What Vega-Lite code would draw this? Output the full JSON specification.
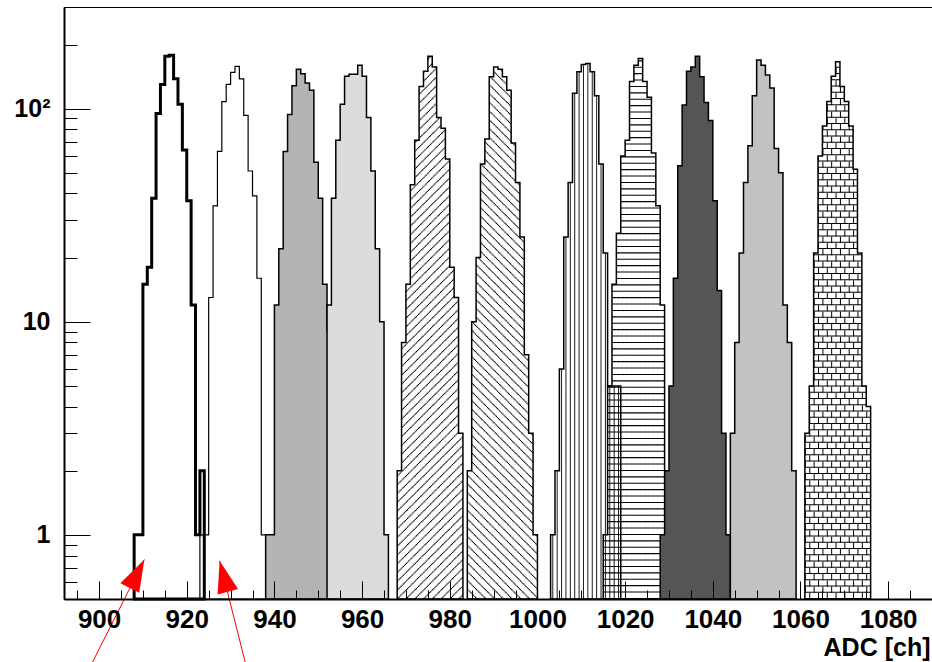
{
"$schema": "https://vega.github.io/schema/vega-lite/v6.json",
"width": 868, "height": 592,
"autosize": {"type": "none"},
"padding": {"left": 64, "top": 7, "right": 0, "bottom": 63},
"background": "white",
"config": {"view": {"stroke": "black", "strokeWidth": 1}, "axis": {"grid": false}},
"datasets": {
"hist": [
{"h":1,"x0":908,"x1":909,"c":1},{"h":1,"x0":909,"x1":910,"c":1},{"h":1,"x0":910,"x1":911,"c":15},{"h":1,"x0":911,"x1":912,"c":18},{"h":1,"x0":912,"x1":913,"c":38},{"h":1,"x0":913,"x1":914,"c":95},{"h":1,"x0":914,"x1":915,"c":130},{"h":1,"x0":915,"x1":916,"c":176},{"h":1,"x0":916,"x1":917,"c":178},{"h":1,"x0":917,"x1":918,"c":138},{"h":1,"x0":918,"x1":919,"c":105},{"h":1,"x0":919,"x1":920,"c":64},{"h":1,"x0":920,"x1":921,"c":37},{"h":1,"x0":921,"x1":922,"c":12},{"h":1,"x0":922,"x1":923,"c":1},{"h":1,"x0":923,"x1":924,"c":2},
{"h":2,"x0":923,"x1":924,"c":1},{"h":2,"x0":924,"x1":925,"c":1},{"h":2,"x0":925,"x1":926,"c":13},{"h":2,"x0":926,"x1":927,"c":35},{"h":2,"x0":927,"x1":928,"c":63},{"h":2,"x0":928,"x1":929,"c":108},{"h":2,"x0":929,"x1":930,"c":130},{"h":2,"x0":930,"x1":931,"c":148},{"h":2,"x0":931,"x1":932,"c":158},{"h":2,"x0":932,"x1":933,"c":138},{"h":2,"x0":933,"x1":934,"c":93},{"h":2,"x0":934,"x1":935,"c":51},{"h":2,"x0":935,"x1":936,"c":39},{"h":2,"x0":936,"x1":937,"c":16},{"h":2,"x0":937,"x1":938,"c":1},
{"h":3,"x0":938,"x1":939,"c":1},{"h":3,"x0":939,"x1":940,"c":1},{"h":3,"x0":940,"x1":941,"c":12},{"h":3,"x0":941,"x1":942,"c":22},{"h":3,"x0":942,"x1":943,"c":63},{"h":3,"x0":943,"x1":944,"c":94},{"h":3,"x0":944,"x1":945,"c":128},{"h":3,"x0":945,"x1":946,"c":153},{"h":3,"x0":946,"x1":947,"c":146},{"h":3,"x0":947,"x1":948,"c":132},{"h":3,"x0":948,"x1":949,"c":122},{"h":3,"x0":949,"x1":950,"c":56},{"h":3,"x0":950,"x1":951,"c":38},{"h":3,"x0":951,"x1":952,"c":15},{"h":3,"x0":952,"x1":953,"c":9},{"h":3,"x0":953,"x1":954,"c":1},{"h":3,"x0":954,"x1":955,"c":1},
{"h":4,"x0":952,"x1":953,"c":12},{"h":4,"x0":953,"x1":954,"c":38},{"h":4,"x0":954,"x1":955,"c":71},{"h":4,"x0":955,"x1":956,"c":105},{"h":4,"x0":956,"x1":957,"c":142},{"h":4,"x0":957,"x1":958,"c":145},{"h":4,"x0":958,"x1":959,"c":145},{"h":4,"x0":959,"x1":960,"c":160},{"h":4,"x0":960,"x1":961,"c":142},{"h":4,"x0":961,"x1":962,"c":91},{"h":4,"x0":962,"x1":963,"c":51},{"h":4,"x0":963,"x1":964,"c":22},{"h":4,"x0":964,"x1":965,"c":10},{"h":4,"x0":965,"x1":966,"c":1},
{"h":5,"x0":968,"x1":969,"c":2},{"h":5,"x0":969,"x1":970,"c":8},{"h":5,"x0":970,"x1":971,"c":15},{"h":5,"x0":971,"x1":972,"c":44},{"h":5,"x0":972,"x1":973,"c":71},{"h":5,"x0":973,"x1":974,"c":127},{"h":5,"x0":974,"x1":975,"c":150},{"h":5,"x0":975,"x1":976,"c":176},{"h":5,"x0":976,"x1":977,"c":157},{"h":5,"x0":977,"x1":978,"c":91},{"h":5,"x0":978,"x1":979,"c":81},{"h":5,"x0":979,"x1":980,"c":58},{"h":5,"x0":980,"x1":981,"c":18},{"h":5,"x0":981,"x1":982,"c":13},{"h":5,"x0":982,"x1":983,"c":3},
{"h":6,"x0":984,"x1":985,"c":2},{"h":6,"x0":985,"x1":986,"c":10},{"h":6,"x0":986,"x1":987,"c":20},{"h":6,"x0":987,"x1":988,"c":55},{"h":6,"x0":988,"x1":989,"c":72},{"h":6,"x0":989,"x1":990,"c":141},{"h":6,"x0":990,"x1":991,"c":157},{"h":6,"x0":991,"x1":992,"c":153},{"h":6,"x0":992,"x1":993,"c":141},{"h":6,"x0":993,"x1":994,"c":122},{"h":6,"x0":994,"x1":995,"c":69},{"h":6,"x0":995,"x1":996,"c":45},{"h":6,"x0":996,"x1":997,"c":25},{"h":6,"x0":997,"x1":998,"c":7},{"h":6,"x0":998,"x1":999,"c":3},{"h":6,"x0":999,"x1":1000,"c":1},
{"h":7,"x0":1003,"x1":1004,"c":1},{"h":7,"x0":1004,"x1":1005,"c":2},{"h":7,"x0":1005,"x1":1006,"c":6},{"h":7,"x0":1006,"x1":1007,"c":25},{"h":7,"x0":1007,"x1":1008,"c":45},{"h":7,"x0":1008,"x1":1009,"c":118},{"h":7,"x0":1009,"x1":1010,"c":149},{"h":7,"x0":1010,"x1":1011,"c":161},{"h":7,"x0":1011,"x1":1012,"c":163},{"h":7,"x0":1012,"x1":1013,"c":149},{"h":7,"x0":1013,"x1":1014,"c":115},{"h":7,"x0":1014,"x1":1015,"c":55},{"h":7,"x0":1015,"x1":1016,"c":21},{"h":7,"x0":1016,"x1":1017,"c":5},{"h":7,"x0":1017,"x1":1018,"c":5},{"h":7,"x0":1018,"x1":1019,"c":5},
{"h":8,"x0":1015,"x1":1016,"c":1},{"h":8,"x0":1016,"x1":1017,"c":5},{"h":8,"x0":1017,"x1":1018,"c":15},{"h":8,"x0":1018,"x1":1019,"c":26},{"h":8,"x0":1019,"x1":1020,"c":60},{"h":8,"x0":1020,"x1":1021,"c":71},{"h":8,"x0":1021,"x1":1022,"c":134},{"h":8,"x0":1022,"x1":1023,"c":160},{"h":8,"x0":1023,"x1":1024,"c":172},{"h":8,"x0":1024,"x1":1025,"c":134},{"h":8,"x0":1025,"x1":1026,"c":113},{"h":8,"x0":1026,"x1":1027,"c":62},{"h":8,"x0":1027,"x1":1028,"c":35},{"h":8,"x0":1028,"x1":1029,"c":12},{"h":8,"x0":1029,"x1":1030,"c":2},
{"h":9,"x0":1028,"x1":1029,"c":1},{"h":9,"x0":1029,"x1":1030,"c":2},{"h":9,"x0":1030,"x1":1031,"c":5},{"h":9,"x0":1031,"x1":1032,"c":16},{"h":9,"x0":1032,"x1":1033,"c":54},{"h":9,"x0":1033,"x1":1034,"c":104},{"h":9,"x0":1034,"x1":1035,"c":150},{"h":9,"x0":1035,"x1":1036,"c":157},{"h":9,"x0":1036,"x1":1037,"c":176},{"h":9,"x0":1037,"x1":1038,"c":141},{"h":9,"x0":1038,"x1":1039,"c":107},{"h":9,"x0":1039,"x1":1040,"c":88},{"h":9,"x0":1040,"x1":1041,"c":37},{"h":9,"x0":1041,"x1":1042,"c":14},{"h":9,"x0":1042,"x1":1043,"c":3},{"h":9,"x0":1043,"x1":1044,"c":1},
{"h":10,"x0":1044,"x1":1045,"c":3},{"h":10,"x0":1045,"x1":1046,"c":8},{"h":10,"x0":1046,"x1":1047,"c":21},{"h":10,"x0":1047,"x1":1048,"c":45},{"h":10,"x0":1048,"x1":1049,"c":67},{"h":10,"x0":1049,"x1":1050,"c":115},{"h":10,"x0":1050,"x1":1051,"c":169},{"h":10,"x0":1051,"x1":1052,"c":160},{"h":10,"x0":1052,"x1":1053,"c":144},{"h":10,"x0":1053,"x1":1054,"c":125},{"h":10,"x0":1054,"x1":1055,"c":65},{"h":10,"x0":1055,"x1":1056,"c":50},{"h":10,"x0":1056,"x1":1057,"c":12},{"h":10,"x0":1057,"x1":1058,"c":8},{"h":10,"x0":1058,"x1":1059,"c":2},
{"h":11,"x0":1061,"x1":1062,"c":3},{"h":11,"x0":1062,"x1":1063,"c":5},{"h":11,"x0":1063,"x1":1064,"c":21},{"h":11,"x0":1064,"x1":1065,"c":60},{"h":11,"x0":1065,"x1":1066,"c":83},{"h":11,"x0":1066,"x1":1067,"c":108},{"h":11,"x0":1067,"x1":1068,"c":142},{"h":11,"x0":1068,"x1":1069,"c":166},{"h":11,"x0":1069,"x1":1070,"c":127},{"h":11,"x0":1070,"x1":1071,"c":108},{"h":11,"x0":1071,"x1":1072,"c":83},{"h":11,"x0":1072,"x1":1073,"c":52},{"h":11,"x0":1073,"x1":1074,"c":21},{"h":11,"x0":1074,"x1":1075,"c":5},{"h":11,"x0":1075,"x1":1076,"c":4}
],
"arrows": [
{"a":1,"o":1,"x":898.47,"y":0.252},{"a":1,"o":2,"x":910.33,"y":0.766},
{"a":2,"o":1,"x":933.35,"y":0.252},{"a":2,"o":2,"x":927.49,"y":0.755}
]
},
"layer": [
{
"data": {"name": "hist"},
"transform": [{"calculate": "0.5", "as": "base"}],
"encoding": {
"x": {"field": "x0", "type": "quantitative", "scale": {"domain": [892, 1090], "nice": false, "zero": false}, "axis": null},
"y": {"field": "base", "type": "quantitative", "scale": {"type": "log", "domain": [0.5, 300], "nice": false}, "axis": null},
"y2": {"field": "c"}
},
"layer": [
{"transform": [{"filter": "datum.h == 5 && datum.x0 % 2 == 0"}], "mark": {"type": "rule", "color": "black", "strokeWidth": 1.15, "xOffset": 0.548, "strokeDash": [1.15, 7.624]}},
{"transform": [{"filter": "datum.h == 5 && datum.x0 % 2 == 0"}], "mark": {"type": "rule", "color": "black", "strokeWidth": 1.15, "xOffset": 1.645, "strokeDash": [0, 1.097, 1.15, 6.527]}},
{"transform": [{"filter": "datum.h == 5 && datum.x0 % 2 == 0"}], "mark": {"type": "rule", "color": "black", "strokeWidth": 1.15, "xOffset": 2.742, "strokeDash": [0, 2.194, 1.15, 5.43]}},
{"transform": [{"filter": "datum.h == 5 && datum.x0 % 2 == 0"}], "mark": {"type": "rule", "color": "black", "strokeWidth": 1.15, "xOffset": 3.839, "strokeDash": [0, 3.29, 1.15, 4.334]}},
{"transform": [{"filter": "datum.h == 5 && datum.x0 % 2 == 1"}], "mark": {"type": "rule", "color": "black", "strokeWidth": 1.15, "xOffset": 0.548, "strokeDash": [0, 4.387, 1.15, 3.237]}},
{"transform": [{"filter": "datum.h == 5 && datum.x0 % 2 == 1"}], "mark": {"type": "rule", "color": "black", "strokeWidth": 1.15, "xOffset": 1.645, "strokeDash": [0, 5.484, 1.15, 2.14]}},
{"transform": [{"filter": "datum.h == 5 && datum.x0 % 2 == 1"}], "mark": {"type": "rule", "color": "black", "strokeWidth": 1.15, "xOffset": 2.742, "strokeDash": [0, 6.581, 1.15, 1.043]}},
{"transform": [{"filter": "datum.h == 5 && datum.x0 % 2 == 1"}], "mark": {"type": "rule", "color": "black", "strokeWidth": 1.15, "xOffset": 3.839, "strokeDash": [0.053, 7.624, 1.097, 0]}},
{"transform": [{"filter": "datum.h == 6 && datum.x0 % 2 == 0"}], "mark": {"type": "rule", "color": "black", "strokeWidth": 1.15, "xOffset": 0.548, "strokeDash": [1.15, 7.624]}},
{"transform": [{"filter": "datum.h == 6 && datum.x0 % 2 == 0"}], "mark": {"type": "rule", "color": "black", "strokeWidth": 1.15, "xOffset": 1.645, "strokeDash": [0.053, 7.624, 1.097, 0]}},
{"transform": [{"filter": "datum.h == 6 && datum.x0 % 2 == 0"}], "mark": {"type": "rule", "color": "black", "strokeWidth": 1.15, "xOffset": 2.742, "strokeDash": [0, 6.581, 1.15, 1.043]}},
{"transform": [{"filter": "datum.h == 6 && datum.x0 % 2 == 0"}], "mark": {"type": "rule", "color": "black", "strokeWidth": 1.15, "xOffset": 3.839, "strokeDash": [0, 5.484, 1.15, 2.14]}},
{"transform": [{"filter": "datum.h == 6 && datum.x0 % 2 == 1"}], "mark": {"type": "rule", "color": "black", "strokeWidth": 1.15, "xOffset": 0.548, "strokeDash": [0, 4.387, 1.15, 3.237]}},
{"transform": [{"filter": "datum.h == 6 && datum.x0 % 2 == 1"}], "mark": {"type": "rule", "color": "black", "strokeWidth": 1.15, "xOffset": 1.645, "strokeDash": [0, 3.29, 1.15, 4.334]}},
{"transform": [{"filter": "datum.h == 6 && datum.x0 % 2 == 1"}], "mark": {"type": "rule", "color": "black", "strokeWidth": 1.15, "xOffset": 2.742, "strokeDash": [0, 2.194, 1.15, 5.43]}},
{"transform": [{"filter": "datum.h == 6 && datum.x0 % 2 == 1"}], "mark": {"type": "rule", "color": "black", "strokeWidth": 1.15, "xOffset": 3.839, "strokeDash": [0, 1.097, 1.15, 6.527]}},
{"transform": [{"filter": "datum.h == 7"}], "mark": {"type": "rule", "color": "black", "strokeWidth": 0.9, "xOffset": 2.19}},
{"transform": [{"filter": "datum.h == 8"}], "mark": {"type": "rule", "color": "black", "strokeWidth": 4.45, "xOffset": 2.1935, "strokeDash": [1.1, 5.3]}},
{"transform": [{"filter": "datum.h == 11"}], "mark": {"type": "rule", "color": "black", "strokeWidth": 4.45, "xOffset": 2.1935, "strokeDash": [1.1, 5.15]}},
{"transform": [{"filter": "datum.h == 11 && datum.x0 % 2 == 0"}], "mark": {"type": "rule", "color": "black", "strokeWidth": 1, "xOffset": 0.5, "strokeDash": [6.25, 6.25]}},
{"transform": [{"filter": "datum.h == 11 && datum.x0 % 2 == 1"}], "mark": {"type": "rule", "color": "black", "strokeWidth": 1, "xOffset": 0.5, "strokeDash": [0, 6.25, 6.25, 0]}}
]
},
{
"data": {"name": "hist"},
"transform": [{"fold": ["x0", "x1"], "as": ["edge", "x"]}],
"encoding": {
"x": {"field": "x", "type": "quantitative", "scale": {"domain": [892, 1090], "nice": false, "zero": false},
"axis": {"orient": "bottom", "values": [900,920,940,960,980,1000,1020,1040,1060,1080], "format": "d", "tickSize": -18, "tickWidth": 1, "tickColor": "black", "domainWidth": 2, "domainColor": "black", "labelFont": "Liberation Sans", "labelFontSize": 26, "labelFontWeight": "bold", "labelColor": "black", "labelPadding": 25.5, "labelFlush": false, "labelOverlap": false, "zindex": 1,
"title": "ADC [ch]", "titleFont": "Liberation Sans", "titleFontSize": 25, "titleFontWeight": "bold", "titleColor": "black", "titleAnchor": "end", "titleAlign": "right", "titleBaseline": "alphabetic", "titleX": 866, "titleY": 56}},
"y": {"field": "c", "type": "quantitative", "scale": {"type": "log", "domain": [0.5, 300], "nice": false},
"axis": {"orient": "left", "values": [1, 10, 100], "labelExpr": "datum.value == 100 ? '10²' : datum.value == 10 ? '10' : '1'", "tickSize": -26, "tickWidth": 1, "tickColor": "black", "domainWidth": 2, "domainColor": "black", "labelFont": "Liberation Sans", "labelFontSize": 25, "labelFontWeight": "bold", "labelColor": "black", "labelPadding": 40, "labelOverlap": false, "labelFlush": false, "title": null, "zindex": 1}},
"y2": {"datum": 0.5},
"order": [{"field": "x", "type": "quantitative"}, {"field": "edge", "type": "ordinal", "sort": "descending"}]
},
"layer": [
{"transform": [{"filter": "datum.h == 1"}], "mark": {"type": "area", "fill": "transparent", "stroke": "black", "strokeWidth": 3, "strokeJoin": "miter"}},
{"transform": [{"filter": "datum.h == 2"}], "mark": {"type": "area", "fill": "transparent", "stroke": "black", "strokeWidth": 1.2, "strokeJoin": "miter"}},
{"transform": [{"filter": "datum.h == 3"}], "mark": {"type": "area", "fill": "#b4b4b4", "stroke": "black", "strokeWidth": 1.5, "strokeJoin": "miter"}},
{"transform": [{"filter": "datum.h == 4"}], "mark": {"type": "area", "fill": "#dcdcdc", "stroke": "black", "strokeWidth": 1.5, "strokeJoin": "miter"}},
{"transform": [{"filter": "datum.h == 5"}], "mark": {"type": "area", "fill": "transparent", "stroke": "black", "strokeWidth": 1.5, "strokeJoin": "miter"}},
{"transform": [{"filter": "datum.h == 6"}], "mark": {"type": "area", "fill": "transparent", "stroke": "black", "strokeWidth": 1.5, "strokeJoin": "miter"}},
{"transform": [{"filter": "datum.h == 7"}], "mark": {"type": "area", "fill": "transparent", "stroke": "black", "strokeWidth": 1.5, "strokeJoin": "miter"}},
{"transform": [{"filter": "datum.h == 8"}], "mark": {"type": "area", "fill": "transparent", "stroke": "black", "strokeWidth": 1.5, "strokeJoin": "miter"}},
{"transform": [{"filter": "datum.h == 9"}], "mark": {"type": "area", "fill": "#555555", "stroke": "black", "strokeWidth": 1.5, "strokeJoin": "miter"}},
{"transform": [{"filter": "datum.h == 10"}], "mark": {"type": "area", "fill": "#c2c2c2", "stroke": "black", "strokeWidth": 1.5, "strokeJoin": "miter"}},
{"transform": [{"filter": "datum.h == 11"}], "mark": {"type": "area", "fill": "transparent", "stroke": "black", "strokeWidth": 1.5, "strokeJoin": "miter"}}
]
},
{
"data": {"name": "arrows"},
"encoding": {
"x": {"field": "x", "type": "quantitative", "scale": {"domain": [892, 1090], "nice": false, "zero": false},
"axis": {"orient": "bottom", "values": [895,905,910,915,925,930,935,945,950,955,965,970,975,985,990,995,1005,1010,1015,1025,1030,1035,1045,1050,1055,1065,1070,1075,1085], "tickSize": -9, "tickWidth": 1, "tickColor": "black", "labels": false, "domain": false, "title": null, "zindex": 1}},
"y": {"field": "y", "type": "quantitative", "scale": {"type": "log", "domain": [0.5, 300], "nice": false},
"axis": {"orient": "left", "values": [0.6,0.7,0.8,0.9,2,3,4,5,6,7,8,9,20,30,40,50,60,70,80,90,200], "tickSize": -13, "tickWidth": 1, "tickColor": "black", "labels": false, "domain": false, "title": null, "zindex": 1}}
},
"layer": [
{"mark": {"type": "line", "color": "red", "strokeWidth": 1, "clip": false}, "encoding": {"detail": {"field": "a"}, "order": {"field": "o", "type": "quantitative"}}},
{"transform": [{"filter": "datum.a == 1 && datum.o == 2"}], "mark": {"type": "point", "shape": "M0,0L-0.66,2L0.66,2Z", "filled": true, "color": "red", "opacity": 1, "size": 1024, "angle": 27, "clip": false}},
{"transform": [{"filter": "datum.a == 2 && datum.o == 2"}], "mark": {"type": "point", "shape": "M0,0L-0.66,2L0.66,2Z", "filled": true, "color": "red", "opacity": 1, "size": 1024, "angle": 345, "clip": false}}
]
}
],
"resolve": {"axis": {"x": "independent", "y": "independent"}}
}
